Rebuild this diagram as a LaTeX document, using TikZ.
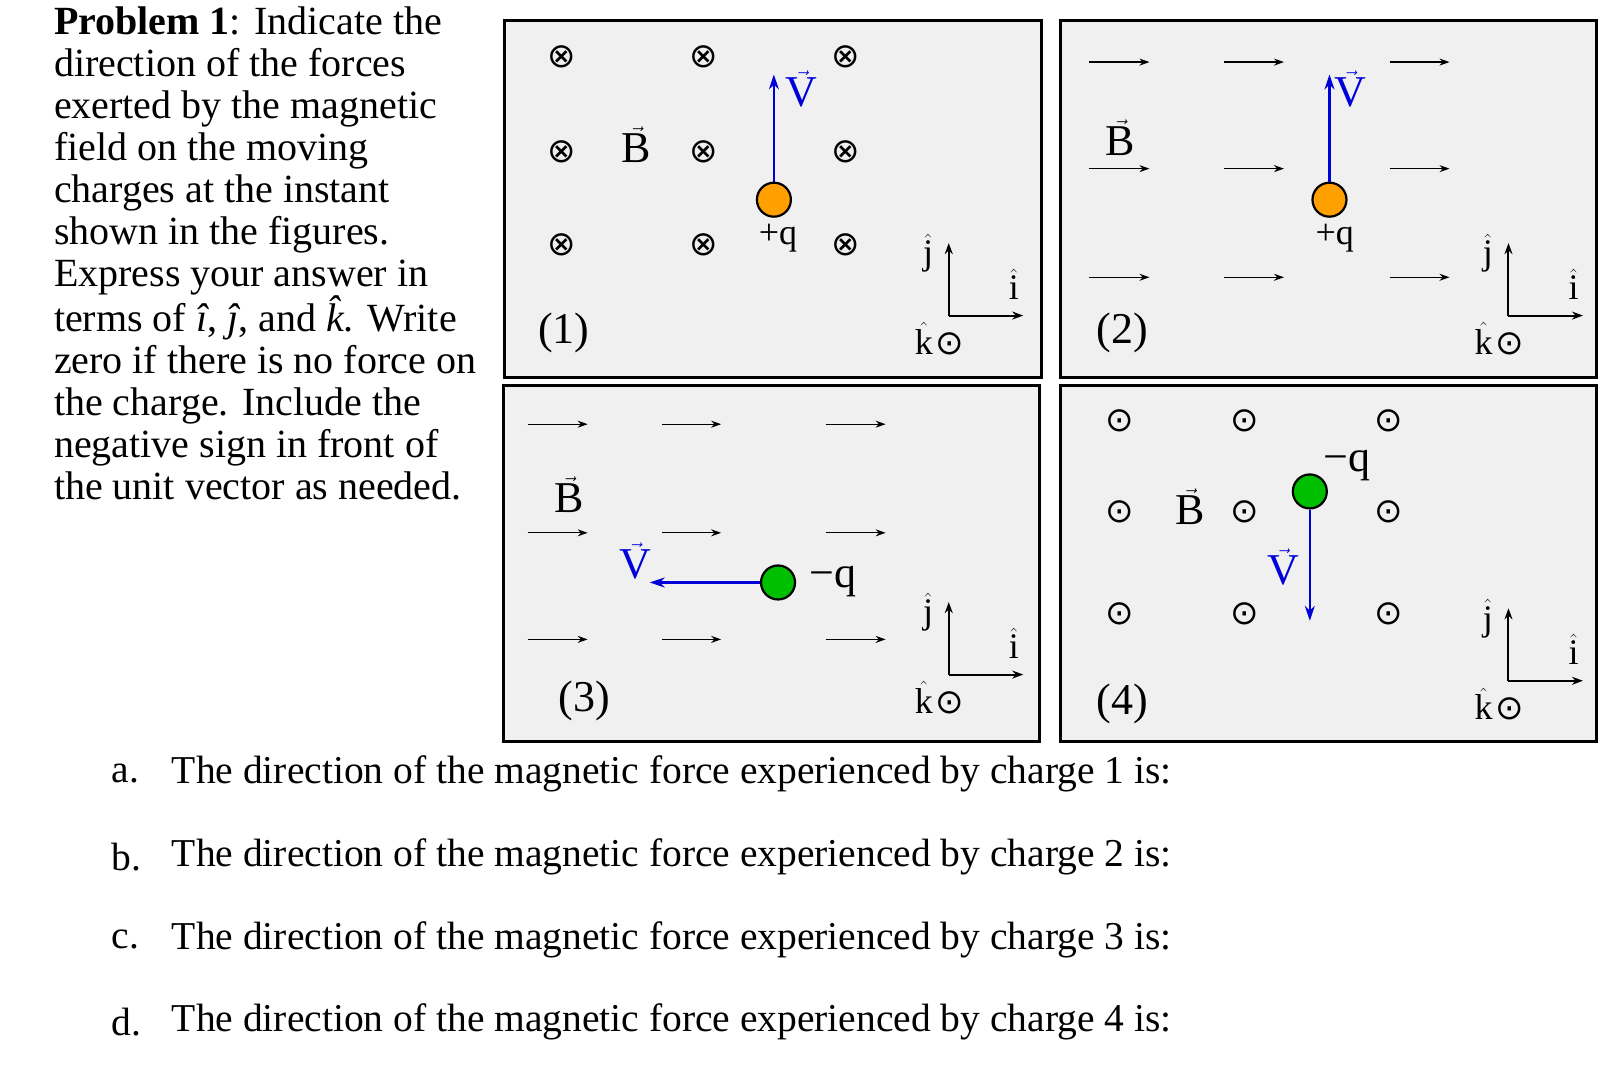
\documentclass[tikz,border=0pt]{standalone}
\usepackage{fontspec}
\setmainfont{Liberation Serif}
\newfontfamily\symf{DejaVu Sans}
\usetikzlibrary{arrows.meta}
\begin{document}
\begin{tikzpicture}[x=1.0346pt,y=-1.0346pt,
  panel/.style={draw=black,line width=3pt,fill=black!6},
  barr/.style={-{Stealth[length=10pt,width=7pt]},line width=1.3pt},
  vecarr/.style={-{Stealth[length=15pt,width=10pt]},line width=2.2pt,draw=blue!85!black},
  ax/.style={-{Stealth[length=11pt,width=8pt]},line width=2pt},
  sym/.style={font=\symf\fontsize{34}{34}\selectfont},
  lbl/.style={font=\fontsize{44}{44}\selectfont},
  small/.style={font=\fontsize{36}{36}\selectfont},
  txt/.style={font=\fontsize{39.5}{42}\selectfont,anchor=north west,inner sep=0pt,align=left},
  ltxt/.style={font=\fontsize{40}{42}\selectfont,anchor=north west,inner sep=0pt,align=left},
  ochg/.style={circle,draw=black,line width=2.2pt,fill=orange!75!yellow,minimum size=34pt,inner sep=0pt},
  gchg/.style={circle,draw=black,line width=2.2pt,fill=green!75!black,minimum size=34pt,inner sep=0pt}]
\useasboundingbox (0,0) rectangle (1560,1044);
\fill[white] (0,0) rectangle (1560,1044);
% left text
\node[ltxt] (prob) at (52,6) {\textbf{Problem 1}: Indicate the\\direction of the forces\\exerted by the magnetic\\field on the moving\\charges at the instant\\shown in the figures.\\Express your answer in\\terms of \textit{\^{\i}}, \textit{ĵ}, and \textit{k̂}. Write\\zero if there is no force on\\the charge. Include the\\negative sign in front of\\the unit vector as needed.};
% panels
\draw[panel] (488,20) rectangle (1007,365);
\draw[panel] (1025,20) rectangle (1543,365);
\draw[panel] (487,373) rectangle (1005,717);
\draw[panel] (1025,373) rectangle (1543,717);
% axes
\foreach \ox/\oy/\n in {917/305/a,1458/305/b,917/652/c,1458/658/d}{
  \coordinate (o\n) at (\ox,\oy);
  \coordinate (j\n) at (\ox,\oy-70);
  \coordinate (i\n) at (\ox+72,\oy);
  \draw[ax] (o\n) -- (j\n);
  \draw[ax] (o\n) -- (i\n);
  \node[small] (jl\n) at (\ox-20,\oy-60) {$\hat{\mathrm{j}}$};
  \node[small] (il\n) at (\ox+63,\oy-30) {$\hat{\mathrm{i}}$};
  \node[small] (kl\n) at (\ox-24,\oy+22) {$\hat{\mathrm{k}}$};
  \node[sym] (ko\n) at (\ox+1,\oy+27) {⊙};
}
% panel 1
\foreach \x in {543,680,817}\foreach \y in {55,147,237}{\node[sym] at (\x,\y) {⊗};}
\node[lbl] (B1) at (615,140) {$\vec{\mathrm{B}}$};
\node[ochg] (q1) at (748,193) {};
\coordinate (v1) at (748,72);
\draw[vecarr] (q1) -- (v1);
\node[lbl,text=blue!85!black] (vl1) at (775,86) {$\vec{\mathrm{V}}$};
\node[small] (ql1) at (752,230) {+q};
\node[lbl] (n1) at (545,322) {(1)};
% panel 2
\foreach \x in {1053,1183,1343}\foreach \y in {60,163,268}{\draw[barr] (\x,\y) -- (\x+58,\y);}
\node[lbl] (B2) at (1083,133) {$\vec{\mathrm{B}}$};
\node[ochg] (q2) at (1285,193) {};
\coordinate (v2) at (1285,72);
\draw[vecarr] (q2) -- (v2);
\node[lbl,text=blue!85!black] (vl2) at (1305,86) {$\vec{\mathrm{V}}$};
\node[small] (ql2) at (1290,230) {+q};
\node[lbl] (n2) at (1085,322) {(2)};
% panel 3
\foreach \x/\l in {510/58,640/57,798/58}\foreach \y in {410,515,618}{\draw[barr] (\x,\y) -- (\x+\l,\y);}
\node[lbl] (B3) at (550,478) {$\vec{\mathrm{B}}$};
\node[gchg] (q3) at (752,563) {};
\coordinate (v3) at (628,563);
\draw[vecarr] (q3) -- (v3);
\node[lbl,text=blue!85!black] (vl3) at (614,542) {$\vec{\mathrm{V}}$};
\node[lbl] (ql3) at (805,562) {−q};
\node[lbl] (n3) at (565,677) {(3)};
% panel 4
\foreach \x in {1082,1203,1342}\foreach \y in {407,495,593}{\node[sym] at (\x,\y) {⊙};}
\node[lbl] (B4) at (1150,490) {$\vec{\mathrm{B}}$};
\node[gchg] (q4) at (1266,475) {};
\coordinate (v4) at (1266,600);
\draw[vecarr] (q4) -- (v4);
\node[lbl,text=blue!85!black] (vl4) at (1240,548) {$\vec{\mathrm{V}}$};
\node[lbl] (ql4) at (1302,450) {−q};
\node[lbl] (n4) at (1085,680) {(4)};
% questions
\foreach \y/\a/\c in {748/a/1,828/b/2,908/c/3,988/d/4}{
  \node[txt,anchor=west] (qa\a) at (108,\y) {\a.};
  \node[txt,anchor=west] (qt\a) at (166,\y) {The direction of the magnetic force experienced by charge \c\ is:};
}
\end{tikzpicture}
\end{document}
